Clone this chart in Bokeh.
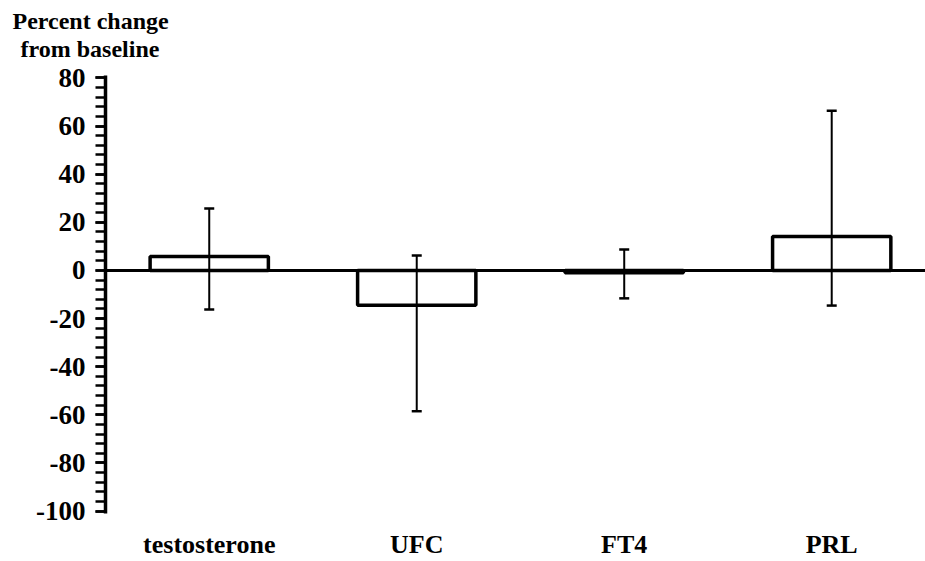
from bokeh.plotting import figure
from bokeh.models import ColumnDataSource, FixedTicker, Span, Whisker, TeeHead, Title, Range1d
from bokeh.embed import file_html
from bokeh.resources import INLINE

categories = ["testosterone", "UFC", "FT4", "PRL"]
means = [5.8, -14.5, -1.0, 14.1]
upper = [25.7, 6.2, 8.7, 66.4]
lower = [-16.2, -58.5, -11.6, -14.6]
y_ticks = [-100, -80, -60, -40, -20, 0, 20, 40, 60, 80]
y_minor = list(range(-100, 81, 4))
title_lines = ["Percent change", "from baseline"]

FONT = "Liberation Serif"

xs = list(range(len(categories)))
src = ColumnDataSource(dict(x=xs, top=means, upper=upper, lower=lower))

p = figure(width=925, height=561, output_backend="svg", toolbar_location=None,
           x_range=Range1d(-0.5, 3.452), y_range=Range1d(-101, 81),
           min_border_left=105, min_border_right=0, min_border_top=75, min_border_bottom=48)
p.outline_line_color = None
p.grid.visible = False
p.background_fill_color = "white"

p.vbar(x="x", top="top", bottom=0, width=0.57, source=src,
       fill_color="white", line_color="black", line_width=3.5)

w = Whisker(base="x", upper="upper", lower="lower", source=src,
            line_color="black", line_width=2, level="overlay",
            upper_head=TeeHead(size=10, line_width=2.5, line_color="black"),
            lower_head=TeeHead(size=10, line_width=2.5, line_color="black"))
p.add_layout(w)

p.add_layout(Span(location=0, dimension="width", line_color="black", line_width=3))

ya = p.yaxis[0]
ya.ticker = FixedTicker(ticks=y_ticks, minor_ticks=y_minor)
ya.major_label_overrides = {t: str(t) for t in y_ticks}
ya.axis_line_width = 3.5
ya.major_tick_line_width = 2.5
ya.minor_tick_line_width = 2.5
ya.major_tick_out = 10
ya.major_tick_in = 0
ya.minor_tick_out = 10
ya.minor_tick_in = 0
ya.major_label_text_font = FONT
ya.major_label_text_font_style = "bold"
ya.major_label_text_font_size = "27px"
ya.major_label_text_color = "black"
ya.major_label_standoff = 10

xa = p.xaxis[0]
xa.ticker = FixedTicker(ticks=xs)
xa.major_label_overrides = {i: c for i, c in enumerate(categories)}
xa.axis_line_color = None
xa.major_tick_line_color = None
xa.minor_tick_line_color = None
xa.major_label_text_font = FONT
xa.major_label_text_font_style = "bold"
xa.major_label_text_font_size = "26px"
xa.major_label_text_color = "black"
xa.major_label_standoff = 10

# outermost title line
p.title.text = title_lines[0]
p.title.text_font = FONT
p.title.text_font_style = "bold"
p.title.text_font_size = "24px"
p.title.text_color = "black"
p.title.align = "left"
p.title.offset = -93
p.title.standoff = 0

# empty spacer closest to the plot frame
spacer = Title(text=" ", text_font=FONT, text_font_size="11px", standoff=0)
p.add_layout(spacer, "above")

# second line, above the spacer
t2 = Title(text=title_lines[1], text_font=FONT, text_font_style="bold",
           text_font_size="24px", text_color="black", align="left", offset=-85, standoff=0)
p.add_layout(t2, "above")

open("out.html", "w").write(file_html(p, INLINE))
